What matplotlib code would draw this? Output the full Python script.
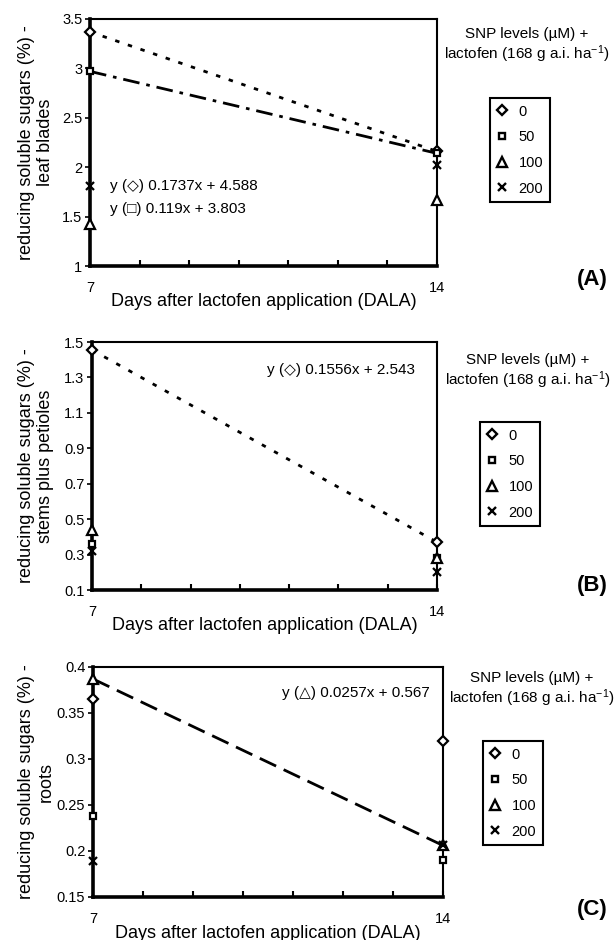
import matplotlib
matplotlib.use("Agg")
import matplotlib.pyplot as plt
from matplotlib.lines import Line2D
from matplotlib.ticker import FormatStrFormatter

plt.rcParams['font.family'] = ['Liberation Sans', 'DejaVu Sans']
plt.rcParams['mathtext.fontset'] = 'custom'
plt.rcParams['mathtext.rm'] = 'Liberation Sans'
plt.rcParams['mathtext.it'] = 'Liberation Sans:italic'

W, H = 615, 940

days = [7, 14]
snp_levels = ['0', '50', '100', '200']

# (A) leaf blades
leaf_0 = [3.37, 2.16]
leaf_50 = [2.97, 2.14]
leaf_100 = [1.43, 1.67]
leaf_200 = [1.81, 2.02]

# (B) stems plus petioles
stem_0 = [1.455, 0.37]
stem_50 = [0.36, 0.28]
stem_100 = [0.44, 0.28]
stem_200 = [0.32, 0.20]

# (C) roots
root_0 = [0.365, 0.32]
root_50 = [0.238, 0.19]
root_100 = [0.387, 0.206]
root_200 = [0.189, 0.206]

legend_title = "SNP levels (\u00b5M) +\nlactofen (168 g a.i. ha$^{-1}$)"
xlabel = "Days after lactofen application (DALA)"

markers = {'0': ('D', 5.0), '50': ('s', 5.0), '100': ('^', 6.5), '200': ('x', 6.0)}


def px_box(left, top, right, bottom):
    return [left / W, 1 - bottom / H, (right - left) / W, (bottom - top) / H]


def style_axes(ax, left_px, ylim, yticks, ylabel_text, h_px, w_px):
    ax.set_xlim(7, 14)
    ax.set_ylim(*ylim)
    ax.set_xticks(range(7, 15))
    ax.set_xticklabels(['7', '', '', '', '', '', '', '14'])
    ax.set_yticks(yticks)
    ax.yaxis.set_major_formatter(FormatStrFormatter('%g'))
    ax.tick_params(axis='x', direction='in', length=4, width=1.5, pad=10.5, labelsize=10.5)
    ax.tick_params(axis='y', direction='out', length=3.5, width=1.2, pad=2, labelsize=10.5)
    for side in ['left', 'bottom']:
        ax.spines[side].set_linewidth(2.6)
    for side in ['top', 'right']:
        ax.spines[side].set_linewidth(1.5)
    ax.set_xlabel(xlabel, fontsize=13)
    ax.xaxis.label.set_va('center')
    ax.xaxis.set_label_coords(0.5, -36 / h_px)
    ax.set_ylabel(ylabel_text, fontsize=13)
    ax.yaxis.label.set_va('center')
    ax.yaxis.set_label_coords(-(left_px - 36) / w_px, 0.5)


def plot_series(ax, values, level, linestyle=None):
    m, ms = markers[level]
    ax.plot(days, values, marker=m, markersize=ms, mfc='white', mec='black', mew=1.6,
            color='black', linestyle='none', clip_on=False, zorder=5)
    if linestyle is not None:
        ax.plot(days, values, color='black', linewidth=2, linestyle=linestyle, zorder=3)


def add_legend(fig, left, top, title_x, title_y):
    handles = []
    for level in snp_levels:
        m, ms = markers[level]
        handles.append(Line2D([], [], marker=m, markersize=ms, mfc='white', mec='black',
                              mew=1.7, color='black', linestyle='none'))
    leg = fig.legend(handles, snp_levels, loc='upper left',
                     bbox_to_anchor=(left / W, 1 - top / H), bbox_transform=fig.transFigure,
                     fontsize=10.5, handlelength=0.7, handletextpad=0.8, labelspacing=0.8,
                     borderpad=0.45, borderaxespad=0, fancybox=False, framealpha=1,
                     edgecolor='black')
    leg.get_frame().set_linewidth(1.5)
    fig.text(title_x / W, 1 - title_y / H, legend_title, ha='center', va='center',
             fontsize=11, linespacing=1.1)


fig = plt.figure(figsize=(W / 100, H / 100), dpi=100)

# panel A
axA = fig.add_axes(px_box(90, 19, 437, 266))
plot_series(axA, leaf_0, '0', (0, (1.6, 3.2)))
plot_series(axA, leaf_50, '50', (0, (6, 2.5, 1.3, 2.5)))
plot_series(axA, leaf_100, '100')
plot_series(axA, leaf_200, '200')
style_axes(axA, 90, (1, 3.5), [1, 1.5, 2, 2.5, 3, 3.5],
           "reducing soluble sugars (%) -\nleaf blades", 247, 347)
fig.text(110 / W, 1 - 186 / H, "y (\u25c7) 0.1737x + 4.588", fontsize=11, va='center')
fig.text(110 / W, 1 - 209 / H, "y (\u25a1) 0.119x + 3.803", fontsize=11, va='center')
add_legend(fig, 490, 98, 527, 46)
fig.text(608 / W, 1 - 280 / H, "(A)", fontsize=16, fontweight='bold', ha='right', va='center')

# panel B
axB = fig.add_axes(px_box(92, 342, 437, 590))
plot_series(axB, stem_0, '0', (0, (1.6, 3.4)))
plot_series(axB, stem_50, '50')
plot_series(axB, stem_100, '100')
plot_series(axB, stem_200, '200')
style_axes(axB, 92, (0.1, 1.5), [0.1, 0.3, 0.5, 0.7, 0.9, 1.1, 1.3, 1.5],
           "reducing soluble sugars (%) -\nstems plus petioles", 248, 345)
fig.text(267 / W, 1 - 370 / H, "y (\u25c7) 0.1556x + 2.543", fontsize=11, va='center')
add_legend(fig, 480, 422, 528, 372)
fig.text(608 / W, 1 - 585 / H, "(B)", fontsize=16, fontweight='bold', ha='right', va='center')

# panel C
axC = fig.add_axes(px_box(93, 667, 443, 897))
plot_series(axC, root_0, '0')
plot_series(axC, root_50, '50')
plot_series(axC, root_100, '100', (0, (6.5, 3)))
plot_series(axC, root_200, '200')
style_axes(axC, 93, (0.15, 0.4), [0.15, 0.2, 0.25, 0.3, 0.35, 0.4],
           "reducing soluble sugars (%) -\nroots", 230, 350)
fig.text(282 / W, 1 - 693 / H, "y (\u25b3) 0.0257x + 0.567", fontsize=11, va='center')
add_legend(fig, 483, 741, 532, 690)
fig.text(608 / W, 1 - 909 / H, "(C)", fontsize=16, fontweight='bold', ha='right', va='center')

fig.savefig("out.png", dpi=100)
